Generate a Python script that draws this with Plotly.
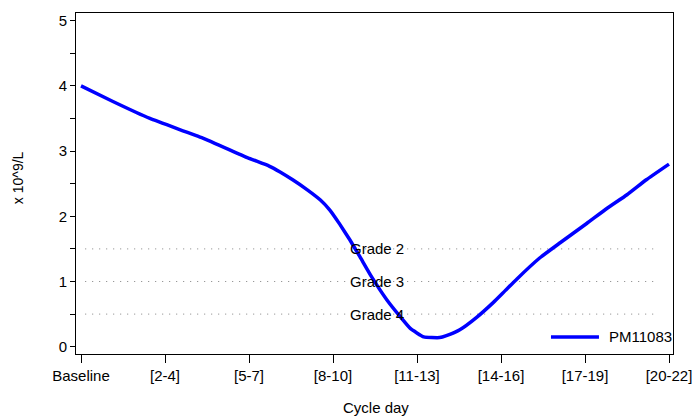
import plotly.graph_objects as go

# Category axis labels
categories = ["Baseline", "[2-4]", "[5-7]", "[8-10]", "[11-13]", "[14-16]", "[17-19]", "[20-22]"]

# Series PM11083 (position along category axis, value x10^9/L)
series_name = "PM11083"
pos = [0, 0.38, 0.82, 1.45, 1.98, 2.24, 2.37, 2.52, 2.69, 2.85, 2.96, 3.08, 3.20, 3.32,
       3.46, 3.64, 3.80, 3.92, 4.08, 4.27, 4.35, 4.51, 4.71, 4.91, 5.05, 5.19, 5.46,
       5.70, 6.02, 6.26, 6.50, 6.73, 7.0]
values = [4.0, 3.76, 3.50, 3.20, 2.90, 2.77, 2.68, 2.56, 2.41, 2.25, 2.10, 1.88, 1.64, 1.38,
          1.07, 0.72, 0.46, 0.28, 0.15, 0.14, 0.17, 0.26, 0.45, 0.68, 0.86, 1.04, 1.36,
          1.59, 1.89, 2.12, 2.33, 2.56, 2.80]

# Toxicity grade reference levels
grade_labels = ["Grade 2", "Grade 3", "Grade 4"]
grade_levels = [1.5, 1.0, 0.5]

FONT = "Liberation Sans, Arial, sans-serif"

fig = go.Figure()
fig.add_trace(go.Scatter(
    x=pos, y=values, mode="lines", name=series_name,
    line=dict(color="#0000FF", width=3.5, shape="spline", smoothing=0.4),
    showlegend=False,
))

for lbl, lvl in zip(grade_labels, grade_levels):
    fig.add_shape(type="line", xref="x", yref="y", x0=0.05, x1=6.87, y0=lvl, y1=lvl,
                  line=dict(color="#808080", width=1, dash="1px,6px"), layer="below")
    fig.add_annotation(x=3.18, y=lvl, xref="x", yref="y", text=lbl, showarrow=False,
                       xanchor="left", yanchor="middle",
                       font=dict(family=FONT, size=15, color="black"))

# Legend (manual, bottom-right inside plot)
fig.add_shape(type="line", xref="paper", yref="paper", x0=0.7956, x1=0.876, y0=0.05, y1=0.05,
              line=dict(color="#0000FF", width=3.5))
fig.add_annotation(x=0.889, y=0.05, xref="paper", yref="paper", text=series_name,
                   showarrow=False, xanchor="left", yanchor="middle",
                   font=dict(family=FONT, size=15, color="black"))

# Axis titles
fig.add_annotation(x=-0.097, y=0.516, xref="paper", yref="paper", text="x 10^9/L",
                   showarrow=False, textangle=-90, xanchor="center", yanchor="middle",
                   font=dict(family=FONT, size=14, color="black"))
fig.add_annotation(x=0.503, y=-0.126, xref="paper", yref="paper", text="Cycle day",
                   showarrow=False, xanchor="center", yanchor="top",
                   font=dict(family=FONT, size=15, color="black"))

fig.update_layout(
    width=694, height=417,
    margin=dict(l=76, r=21, t=13, b=63, pad=0, autoexpand=False),
    paper_bgcolor="white", plot_bgcolor="white",
    font=dict(family=FONT, size=15, color="black"),
    xaxis=dict(
        range=[-0.0595, 7.0476], tickmode="array", tickvals=list(range(len(categories))),
        ticktext=categories, ticks="outside", ticklen=8, tickwidth=1, tickcolor="black",
        showline=True, linecolor="black", linewidth=1, mirror=True, automargin=False,
        showgrid=False, zeroline=False, tickfont=dict(size=15),
    ),
    yaxis=dict(
        range=[-0.112, 5.118], tickmode="array", tickvals=[0, 1, 2, 3, 4, 5],
        ticks="outside", ticklen=5, tickwidth=1, tickcolor="black",
        minor=dict(tickmode="array", tickvals=[0.5, 1.5, 2.5, 3.5, 4.5], ticks="outside",
                   ticklen=5, tickcolor="black", showgrid=False),
        showline=True, linecolor="black", linewidth=1, mirror=True, automargin=False,
        showgrid=False, zeroline=False, tickfont=dict(size=15),
    ),
)

fig.write_html("out.html", config={"displayModeBar": False},
               post_script="document.body.style.margin='0';")
